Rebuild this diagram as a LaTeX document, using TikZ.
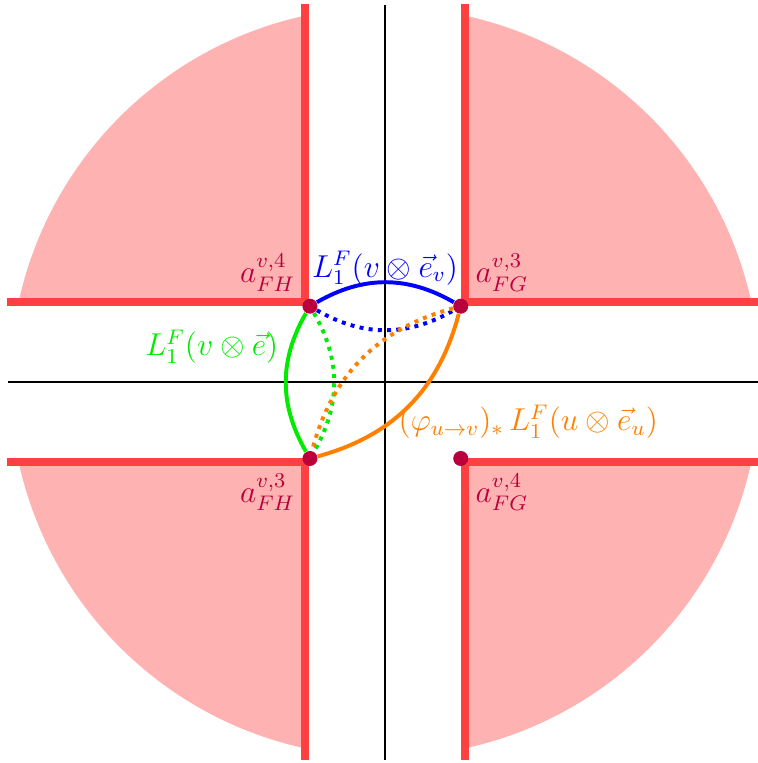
\documentclass[tikz,border=0pt]{standalone}
\usepackage{amsmath,amssymb}
\usepackage{tikz}
\usetikzlibrary{positioning}
\definecolor{stripcol}{RGB}{255,64,64}
\definecolor{regioncol}{RGB}{255,178,178}
\definecolor{ptcol}{RGB}{185,0,60}
\definecolor{orangec}{RGB}{255,128,0}
\definecolor{greenc}{RGB}{0,235,0}

\begin{document}
\begin{tikzpicture}[font=\large,
  strip/.style={draw=stripcol,line width=3pt},
  axis/.style={black,line width=0.75pt},
  curve/.style={line width=1.5pt},
  vtx/.style={circle,fill=ptcol,inner sep=0pt,minimum size=0.2cm},
  lab/.style={text=ptcol},
]
\useasboundingbox (-5.133,-5.08) rectangle (4.973,5.093);

% shaded pieces of the disc, one per quadrant
\foreach \sx/\sy in {1/1,-1/1,-1/-1,1/-1}{
  \begin{scope}[xscale=\sx,yscale=\sy]
    \fill[regioncol] (1.07,1.07) -- (12.36:5) arc[start angle=12.36,end angle=77.64,radius=5] -- cycle;
    \draw[strip] (1.07,5.04) -- (1.07,1.07) -- (5.04,1.07);
  \end{scope}
}

\draw[axis] (-5.03,0) -- (5.03,0);
\draw[axis] (0,-5.04) -- (0,5.03);

\node[vtx] (FHfour) at (-1,1.01) {};
\node[vtx] (FGthree) at (1.01,1.01) {};
\node[vtx] (FHthree) at (-1,-1.02) {};
\node[vtx] (FGfour) at (1.01,-1.02) {};

\draw[curve,blue] (FHfour) to[bend left=30] (FGthree);
\draw[curve,blue,dotted] (FHfour) to[bend right=30] (FGthree);
\draw[curve,greenc] (FHfour) to[bend right=30] (FHthree);
\draw[curve,greenc,dotted] (FHfour) to[bend left=30] (FHthree);
\draw[curve,orangec] (FGthree) to[bend left=30] (FHthree);
\draw[curve,orangec,dotted] (FGthree) to[bend right=30] (FHthree);

\node[lab,above left=0pt of FHfour] (lFHfour) {$a^{v,4}_{FH}$};
\node[lab,above right=0pt of FGthree] (lFGthree) {$a^{v,3}_{FG}$};
\node[lab,below left=0pt of FHthree] (lFHthree) {$a^{v,3}_{FH}$};
\node[lab,below right=0pt of FGfour] (lFGfour) {$a^{v,4}_{FG}$};

\node[text=blue,anchor=south] (lblue) at (0,1.17) {$L_1^F(v\otimes\vec{e}_v)$};
\node[text=greenc] (lgreen) at (-2.31,0.47) {$L_1^F(v\otimes\vec{e})$};
\node[text=orangec] (lorange) at (1.91,-0.53) {$(\varphi_{u\to v})_*\,L_1^F(u\otimes\vec{e}_u)$};
\end{tikzpicture}
\end{document}
